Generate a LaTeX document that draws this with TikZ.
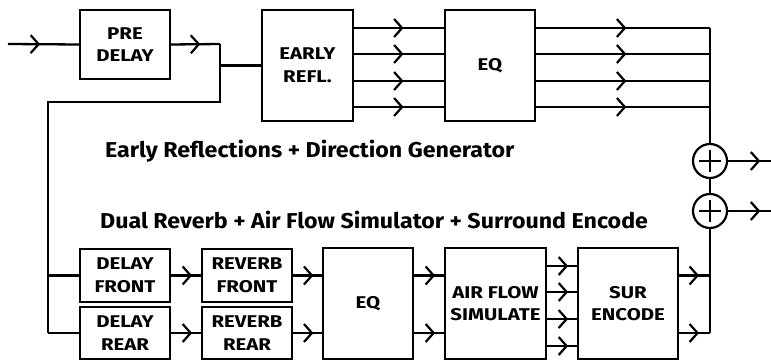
\documentclass[tikz,border=0pt]{standalone}
\usepackage{fontspec}
\setmainfont{Fira Sans}
\newfontfamily\boxfont[FakeStretch=1.2]{Fira Sans}
\newfontfamily\capfont[FakeStretch=1.08]{Fira Sans}
\usepackage{tikz}
\usetikzlibrary{arrows.meta,decorations.markings}

\begin{document}
\begin{tikzpicture}[
        x=1pt, y=-1pt,
        block/.style={draw, rectangle, line width=1.4pt, align=center, inner sep=0pt,
            font=\boxfont\fontsize{17}{22.5}\selectfont\bfseries},
        wire/.style={line width=2.3pt},
        mid arrow/.style={postaction={decorate}, decoration={markings,
            mark=at position #1 with {\arrow{Straight Barb[length=8pt,width=18pt,line width=2.2pt]}}}},
        mid arrow/.default=0.55,
        summer/.style={draw, circle, line width=2.2pt, minimum size=34pt, inner sep=0pt},
        caption/.style={font=\capfont\fontsize{21.5}{24}\selectfont\bfseries, inner sep=0pt}
    ]
        \useasboundingbox (0,0) rectangle (771,361);

        % Early reflections path
        \node[block, minimum width=90pt, minimum height=69pt] (pre) at (125,44.5) {PRE\\DELAY};
        \node[block, minimum width=91pt, minimum height=111pt] (early) at (307.5,65.5) {EARLY\\REFL.};
        \node[block, minimum width=90pt, minimum height=111pt] (eqtop) at (490,65.5) {EQ};

        % Dual reverb path
        \node[block, minimum width=90pt, minimum height=53pt] (dfront) at (125,275.5) {DELAY\\FRONT};
        \node[block, minimum width=90pt, minimum height=52pt] (drear) at (125,333) {DELAY\\REAR};
        \node[block, minimum width=90pt, minimum height=53pt] (rfront) at (247,275.5) {REVERB\\FRONT};
        \node[block, minimum width=90pt, minimum height=52pt] (rrear) at (247,333) {REVERB\\REAR};
        \node[block, minimum width=90pt, minimum height=111pt] (eqbot) at (368,303.5) {EQ};
        \node[block, minimum width=101pt, minimum height=111pt] (air) at (495.5,303.5) {AIR FLOW\\SIMULATE};
        \node[block, minimum width=100pt, minimum height=111pt] (sur) at (628,303.5) {SUR\\ENCODE};

        % Summing points
        \node[summer] (sumA) at (710,161) {};
        \node[summer] (sumB) at (710,211) {};
        \draw[line width=1.2pt] (sumA.center) +(-11,0) -- +(11,0) +(0,-11) -- +(0,11);
        \draw[line width=1.2pt] (sumB.center) +(-11,0) -- +(11,0) +(0,-11) -- +(0,11);

        % Captions
        \node[caption, anchor=base west] (capER) at (105,157) {Early Reflections + Direction Generator};
        \node[caption, anchor=base west] (capDR) at (100,228) {Dual Reverb + Air Flow Simulator + Surround Encode};

        % Junction points
        \coordinate (in) at (8,44);
        \coordinate (j1) at (220,44);
        \coordinate (j2) at (220,102);
        \coordinate (j3) at (48,102);
        \coordinate (j4) at (48,333);
        \coordinate (bus) at (710,28);
        \coordinate (busbot) at (710,333);
        \coordinate (outA) at (771,161);
        \coordinate (outB) at (771,211);

        % Top wires
        \draw[wire, mid arrow=0.45] (in) -- (pre.west);
        \draw[wire, mid arrow=0.6] (pre.east) -- (j1);
        \draw[wire] (j1) -- (j2) -- (j3) -- (j4);
        \draw[wire] (j1 |- early.west) -- (early.west);
        \foreach \y in {28,54,81,107} {
            \draw[wire, mid arrow] (early.east |- 0,\y) -- (eqtop.west |- 0,\y);
            \draw[wire, mid arrow=0.52] (eqtop.east |- 0,\y) -- (bus |- 0,\y);
        }
        \draw[wire] (bus) -- (sumA.north);
        \draw[wire] (sumA.south) -- (sumB.north);
        \draw[wire] (sumB.south) -- (busbot);
        \draw[wire, mid arrow=0.75] (sumA.east) -- (outA);
        \draw[wire, mid arrow=0.75] (sumB.east) -- (outB);

        % Bottom wires
        \draw[wire] (j3 |- dfront.west) -- (dfront.west);
        \draw[wire] (j4) -- (drear.west);
        \draw[wire, mid arrow=0.7] (dfront.east) -- (rfront.west);
        \draw[wire, mid arrow=0.7] (drear.east) -- (rrear.west);
        \draw[wire, mid arrow=0.7] (rfront.east) -- (eqbot.west |- rfront.east);
        \draw[wire, mid arrow=0.7] (rrear.east) -- (eqbot.west |- rrear.east);
        \draw[wire, mid arrow=0.7] (eqbot.east |- rfront.east) -- (air.west |- rfront.east);
        \draw[wire, mid arrow=0.7] (eqbot.east |- rrear.east) -- (air.west |- rrear.east);
        \foreach \y in {266,292,319,346} {
            \draw[wire, mid arrow=0.7] (air.east |- 0,\y) -- (sur.west |- 0,\y);
        }
        \draw[wire, mid arrow=0.65] (sur.east |- rfront.east) -- (busbot |- rfront.east);
        \draw[wire, mid arrow=0.65] (sur.east |- rrear.east) -- (busbot);

    \end{tikzpicture}
\end{document}
